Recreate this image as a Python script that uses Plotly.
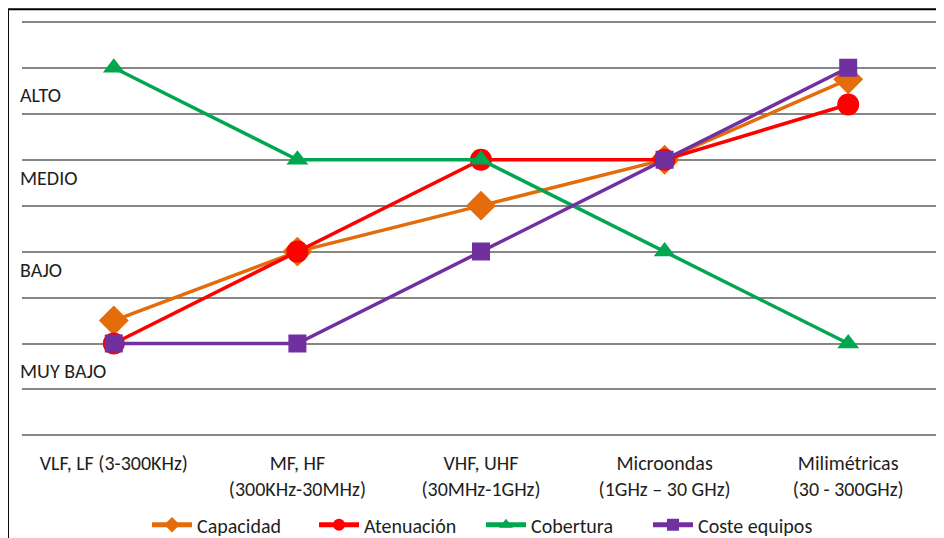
import plotly.graph_objects as go

categories = ["VLF, LF (3-300KHz)", "MF, HF<br>(300KHz-30MHz)", "VHF, UHF<br>(30MHz-1GHz)",
              "Microondas<br>(1GHz – 30 GHz)", "Milimétricas<br>(30 - 300GHz)"]
capacidad = [2.5, 4, 5, 6, 7.75]
atenuacion = [2, 4, 6, 6, 7.2]
cobertura = [8, 6, 6, 4, 2]
coste = [2, 2, 4, 6, 8]

level_vals = [1.4, 3.6, 5.6, 7.4]
level_labels = ["MUY BAJO", "BAJO", "MEDIO", "ALTO"]

FONT = "Carlito, Lato, sans-serif"

series = [
    ("Capacidad", capacidad, "#E46C0A", "diamond", 23),
    ("Atenuación", atenuacion, "#FF0000", "circle", 22),
    ("Cobertura", cobertura, "#00A650", "triangle-up", 19),
    ("Coste equipos", coste, "#7030A0", "square", 18),
]

fig = go.Figure()
xs = list(range(len(categories)))
for name, vals, color, sym, size in series:
    fig.add_trace(go.Scatter(
        x=xs, y=vals, name=name, mode="lines+markers",
        line=dict(color=color, width=3.5),
        marker=dict(symbol=sym, size=size, color=color),
    ))

fig.update_layout(
    width=936, height=530,
    margin=dict(l=14, r=4, t=12, b=99),
    paper_bgcolor="white", plot_bgcolor="white",
    font=dict(family=FONT, size=20, color="#1e1e1e"),
    showlegend=True,
    legend=dict(orientation="h", x=0.5, xanchor="center", yref="container", y=0.025,
                yanchor="middle", itemsizing="constant", entrywidth=112, entrywidthmode="pixels",
                font=dict(size=20, color="#1e1e1e"), itemwidth=40, tracegroupgap=0),
    xaxis=dict(range=[-0.5, 4.5], tickvals=xs, ticktext=categories, showgrid=False,
               zeroline=False, showline=False, ticks="", ticklabelstandoff=12,
               tickfont=dict(size=20, color="#1e1e1e")),
    yaxis=dict(range=[-0.04, 9.04], tickvals=level_vals, ticktext=level_labels, showgrid=False,
               zeroline=False, showline=False, ticks="", ticklabelposition="inside",
               ticklabelstandoff=-5,
               tickfont=dict(size=20, color="#1e1e1e"),
               minor=dict(tickmode="linear", tick0=0, dtick=1, showgrid=True,
                          gridcolor="#868686", gridwidth=1.5)),
)

fig.add_shape(type="rect", xref="paper", yref="paper", x0=-0.0153, x1=1.02, y0=-0.3, y1=1.026,
              line=dict(color="black", width=2), fillcolor="rgba(0,0,0,0)", layer="above")

fig.write_html("out.html")
